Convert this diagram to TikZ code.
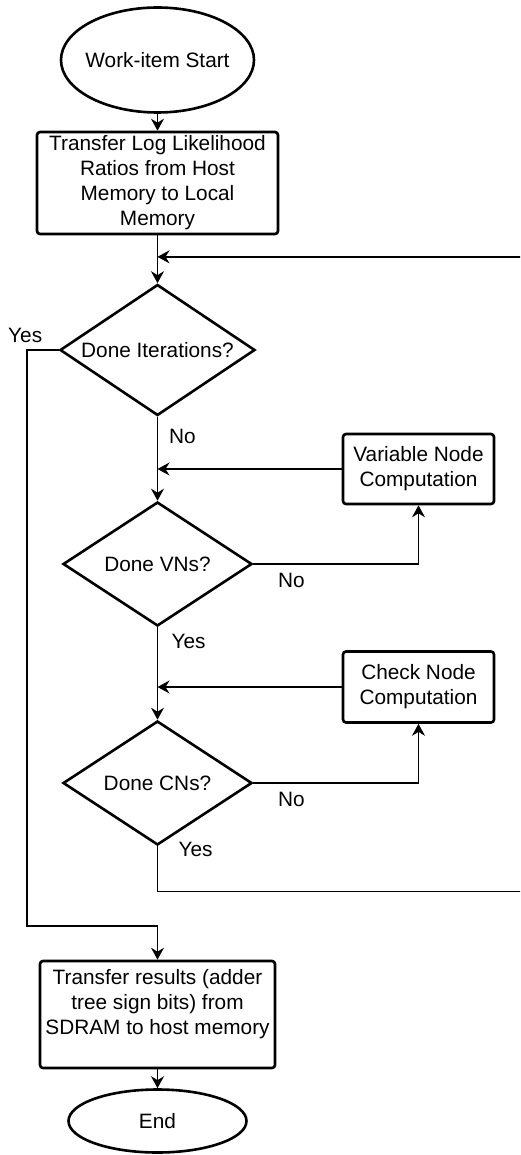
\documentclass[tikz,border=0pt]{standalone}
\usepackage{fontspec}
\setmainfont{Liberation Sans}
\usetikzlibrary{
    shapes.geometric,
    arrows.meta,
    calc
}
\tikzset {
    base/.style = {draw, line width = 2.6pt, font = \fontsize{20.8}{25}\selectfont},
    terminal/.style = {base, ellipse, inner xsep = -4pt, inner ysep = 0pt},
    process/.style = {base, rectangle, rounded corners = 3pt, align = center, inner sep = 2pt},
    decision/.style = {base, diamond, aspect = 1.5, inner sep = 0pt},
    flow/.style = {line width = 1.6pt, -{Stealth[length = 12pt, width = 13pt, inset = 4pt]}},
    branch/.style = {font = \fontsize{20.8}{25}\selectfont},
}
\begin{document}
\begin{tikzpicture}[x = 1pt, y = -1pt]
            \useasboundingbox (0, 0) rectangle (520, 1155);
            \clip (0, 0) rectangle (520, 1155);
            % main column
            \node (start) [terminal, minimum width = 193pt, minimum height = 105pt] at (157.5, 60) {Work-item Start};
            \node (ratios) [process, minimum width = 241pt, minimum height = 102pt] at (157.5, 183)
                {Transfer Log Likelihood\\Ratios from Host\\Memory to Local\\Memory};
            \node (iter) [decision, minimum width = 195pt, minimum height = 131pt] at (157.5, 350) {Done Iterations?};
            \node (vns) [decision, minimum width = 189pt, minimum height = 124pt] at (157.5, 564) {Done VNs?};
            \node (cns) [decision, minimum width = 189pt, minimum height = 124pt] at (157.5, 783) {Done CNs?};
            \node (result) [process, minimum width = 235pt, minimum height = 107pt] at (157.5, 1014.5)
                {Transfer results (adder\\tree sign bits) from\\SDRAM to host memory\\\mbox{}};
            \node (finish) [terminal, minimum width = 178pt, minimum height = 63pt] at (157.5, 1121) {End};
            % side boxes
            \node (vnbox) [process, minimum width = 151pt, minimum height = 70pt] at (418.5, 469) {Variable Node\\Computation};
            \node (cnbox) [process, minimum width = 151pt, minimum height = 71pt] at (418.5, 687) {Check Node\\Computation};
            \coordinate (loopin) at ($ (ratios.south)!0.45!(iter.north) $);
            % connectors
            \draw [flow] (start) -- (ratios);
            \draw [flow] (ratios) -- (iter);
            \draw [flow] (iter) -- (vns);
            \draw [flow] (vns) -- (cns);
            \draw [flow] (result) -- (finish);
            \draw [flow] (vnbox.west) -- (iter.south |- vnbox.west);
            \draw [flow] (cnbox.west) -- (vns.south |- cnbox.west);
            \draw [flow] (vns.east) -| (vnbox.south);
            \draw [flow] (cns.east) -| (cnbox.south);
            \draw [flow] (cns.south) -- ++(0, 45) -- ++(372, 0) |- (loopin);
            \draw [flow] (iter.west) -- ++(-32, 0) |- ($ (result.north) + (0, -34) $) -- (result.north);
            % branch labels
            \node [branch] at ($ (iter.west) + (-33.5, -15) $) {Yes};
            \node [branch] at ($ (iter.south) + (25, 20) $) {No};
            \node [branch] at ($ (vns.east) + (38, 16) $) {No};
            \node [branch] at ($ (vns.south) + (31, 14) $) {Yes};
            \node [branch] at ($ (cns.east) + (38, 16) $) {No};
            \node [branch] at ($ (cns.south) + (38, 3) $) {Yes};
\end{tikzpicture}
\end{document}
